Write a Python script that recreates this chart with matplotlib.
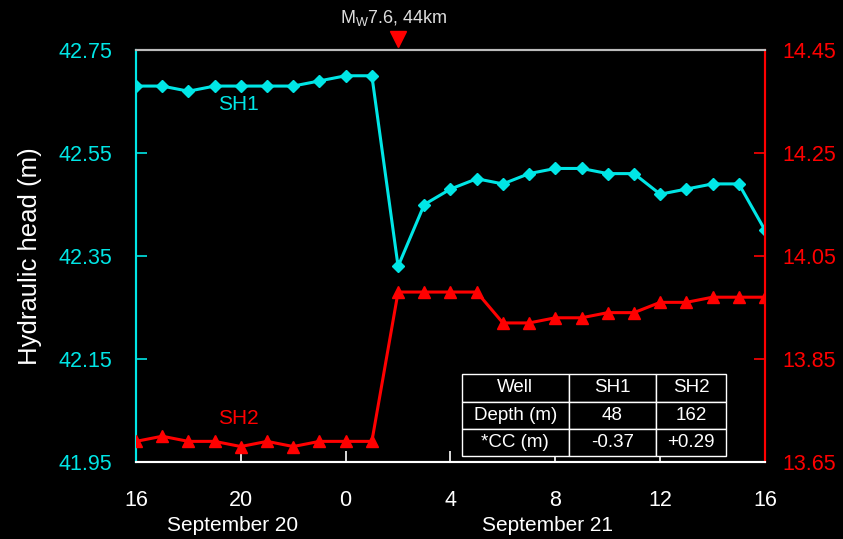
import matplotlib.pyplot as plt

plt.rcParams['font.family'] = ['Liberation Sans', 'DejaVu Sans']

# hours since September 20, 16:00
hours = list(range(25))
sh1 = [42.68, 42.68, 42.67, 42.68, 42.68, 42.68, 42.68, 42.69, 42.70, 42.70,
       42.33, 42.45, 42.48, 42.50, 42.49, 42.51, 42.52, 42.52, 42.51, 42.51,
       42.47, 42.48, 42.49, 42.49, 42.40]
sh2 = [13.69, 13.70, 13.69, 13.69, 13.68, 13.69, 13.68, 13.69, 13.69, 13.69,
       13.98, 13.98, 13.98, 13.98, 13.92, 13.92, 13.93, 13.93, 13.94, 13.94,
       13.96, 13.96, 13.97, 13.97, 13.97]
xtick_pos = [0, 4, 8, 12, 16, 20, 24]
xtick_labels = ['16', '20', '0', '4', '8', '12', '16']
left_ticks = [41.95, 42.15, 42.35, 42.55, 42.75]
right_ticks = [13.65, 13.85, 14.05, 14.25, 14.45]
event_hour = 10  # Sept 21, 02:00
table_rows = [['Well', 'SH1', 'SH2'],
              ['Depth (m)', '48', '162'],
              ['*CC (m)', '-0.37', '+0.29']]

cyan = '#00e6e6'
red = '#ff0000'

fig = plt.figure(figsize=(8.43, 5.39), dpi=100, facecolor='black')
ax = fig.add_axes([0.1613, 0.1429, 0.7462, 0.7643])
ax.set_facecolor('black')
ax2 = ax.twinx()

ax.plot(hours, sh1, color=cyan, lw=2.2, marker='D', ms=6, zorder=3)
ax2.plot(hours, sh2, color=red, lw=2.2, marker='^', ms=8, zorder=3)

ax.set_xlim(0, 24)
ax.set_ylim(41.95, 42.75)
ax2.set_ylim(13.65, 14.45)
ax.set_xticks(xtick_pos)
ax.set_xticklabels(xtick_labels)
ax.set_yticks(left_ticks)
ax.set_yticklabels(['%.2f' % v for v in left_ticks])
ax2.set_yticks(right_ticks)
ax2.set_yticklabels(['%.2f' % v for v in right_ticks])

ax.tick_params(axis='x', direction='in', length=8, width=1.2, colors='white',
               labelsize=15.5, pad=20.5, top=False)
ax.tick_params(axis='y', direction='in', length=8, width=1.2, colors=cyan,
               labelsize=15.5, pad=17)
ax2.tick_params(axis='y', direction='in', length=8, width=1.2, colors=red,
                labelsize=15.5, pad=12.5)

for a in (ax, ax2):
    a.spines['top'].set_color('#bbbbbb')
    a.spines['bottom'].set_color('white')
    a.spines['left'].set_color(cyan)
    a.spines['right'].set_color(red)
    for s in a.spines.values():
        s.set_linewidth(1.5)

ax.set_ylabel('Hydraulic head (m)', color='white', fontsize=18.5, labelpad=12)

# date labels
ax.text(3.7, -0.153, 'September 20', transform=ax.get_xaxis_transform(),
        color='white', fontsize=15, ha='center', va='center')
ax.text(15.7, -0.153, 'September 21', transform=ax.get_xaxis_transform(),
        color='white', fontsize=15, ha='center', va='center')

# series labels
ax.text(3.9, 42.645, 'SH1', color=cyan, fontsize=15, ha='center', va='center')
ax2.text(3.9, 13.735, 'SH2', color=red, fontsize=15, ha='center', va='center')

# earthquake marker
ax.plot(event_hour, 1.027, marker='v', color=red, ms=11,
        transform=ax.get_xaxis_transform(), clip_on=False, zorder=5)
ax.text(event_hour - 0.15, 1.078, r'M$_\mathregular{W}$7.6, 44km',
        transform=ax.get_xaxis_transform(), color='#dddddd', fontsize=13,
        ha='center', va='center')

# info table
tab = ax2.table(cellText=table_rows, cellLoc='center',
                colWidths=[107, 87, 70],
                bbox=[0.518, 0.014, 0.42, 0.199])
tab.auto_set_font_size(False)
tab.set_fontsize(13.5)
for cell in tab.get_celld().values():
    cell.set_facecolor('black')
    cell.set_edgecolor('white')
    cell.set_linewidth(1.0)
    cell.get_text().set_color('white')
tab.set_zorder(6)

fig.savefig('out.png', dpi=100, facecolor='black')
